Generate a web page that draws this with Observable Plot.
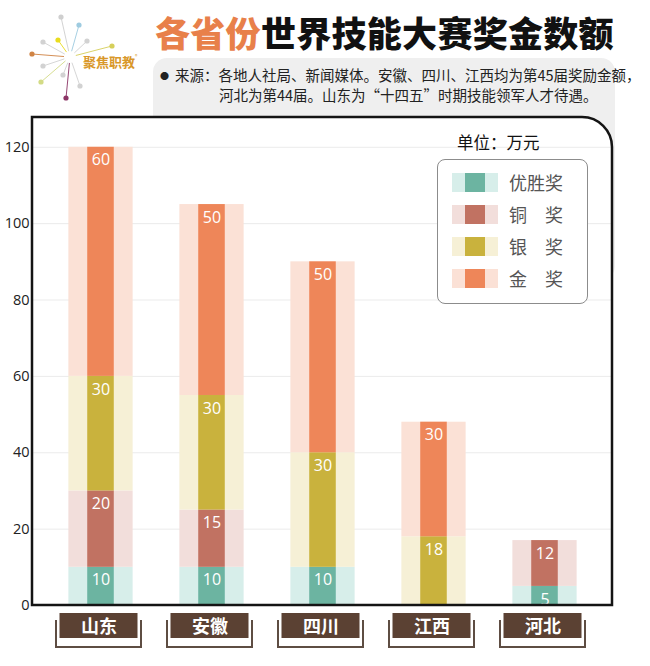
<!DOCTYPE html>
<html><head><meta charset="utf-8">
<script src="https://cdn.jsdelivr.net/npm/d3@7"></script>
<script src="https://cdn.jsdelivr.net/npm/@observablehq/plot@0.6"></script>
<style>
body{margin:0;background:#fff;font-family:"Noto Sans CJK SC","Noto Sans",sans-serif;}
#wrap{position:relative;width:650px;height:666px;overflow:hidden;background:#fff;}
#graybox{position:absolute;left:153px;top:58px;width:462px;height:222px;background:#efefef;border-radius:14px;}
#logo{position:absolute;left:0;top:0;}
#title{position:absolute;left:155px;top:13px;font-size:35px;line-height:38px;font-weight:900;color:#111;white-space:nowrap;letter-spacing:0.3px;}
#sub{position:absolute;left:160px;top:65px;font-size:14.5px;line-height:19px;color:#222;white-space:nowrap;}
#sub .l2{padding-left:59px;}
#sub .dot{display:inline-block;width:15px;font-size:9px;vertical-align:2px;}
#chart{position:absolute;left:0;top:110px;}
#unit{position:absolute;left:457px;top:131px;font-size:16.5px;line-height:22px;color:#111;white-space:nowrap;}
#legend{position:absolute;left:437px;top:159px;width:149px;height:143px;border:1.3px solid #8c8c8c;border-radius:8px;background:#fff;}
.row{position:absolute;left:14px;height:19px;width:140px;}
.sw{position:absolute;left:0;top:0;width:46px;height:19px;}
.swd{position:absolute;left:13px;top:0;width:20px;height:19px;}
.lt{position:absolute;left:57px;top:-5px;font-size:18px;line-height:28px;color:#555;white-space:nowrap;}
</style></head><body>
<div id="wrap">
  <div id="graybox"></div>
  <svg id="logo" width="150" height="110"></svg>
  <div id="title"><span style="color:#e8804a">各省份</span>世界技能大赛奖金数额</div>
  <div id="sub"><span class="dot">●</span>来源：各地人社局、新闻媒体。安徽、四川、江西均为第45届奖励金额，<br><span class="l2">河北为第44届。山东为“十四五”时期技能领军人才待遇。</span></div>
  <div id="chart"></div>
  <div id="unit">单位：万元</div>
  <div id="legend"></div>
</div>
<script>
// ---- data ----
const provinces = ["山东", "安徽", "四川", "江西", "河北"];
const awards = ["优胜奖", "铜奖", "银奖", "金奖"];
const legendLabels = ["优胜奖", "铜　奖", "银　奖", "金　奖"];
const youshengVals = [10, 10, 10, 0, 5];
const tongVals = [20, 15, 0, 0, 12];
const yinVals = [30, 30, 30, 18, 0];
const jinVals = [60, 50, 50, 30, 0];
const yTicks = [0, 20, 40, 60, 80, 100, 120];
const darkColors = ["#6cb4a1", "#c17262", "#c9b23d", "#ee8659"];
const paleColors = ["#d7eeea", "#f2dedb", "#f6f0d6", "#fbe1d6"];

const seriesVals = [youshengVals, tongVals, yinVals, jinVals];
const table = [];
awards.forEach((a, k) => provinces.forEach((p, i) => table.push({province: p, award: a, k, value: seriesVals[k][i]})));
const labeled = table.filter(d => d.value > 0);

// ---- logo (decoration) ----
(function(){
  const s = d3.select("#logo");
  const c = [70, 57];
  const dots = [[61,17,"#cfcfcf"],[79,25,"#9ecbe0"],[87,41,"#d2d2d2"],[112,46,"#d6cf5a"],[58,40,"#e9dc1e"],[43,42,"#d2d2d2"],[32,54,"#d08445"],[43,66,"#d2d2d2"],[41,82,"#d3db86"],[63,75,"#d2d2d2"],[66,98,"#8c3566"],[80,86,"#d2d2d2"]];
  dots.forEach(([x,y,col]) => {
    const dx = x - c[0], dy = y - c[1], L = Math.hypot(dx, dy);
    s.append("line").attr("x1", c[0] + dx/L*6).attr("y1", c[1] + dy/L*6).attr("x2", x).attr("y2", y)
      .attr("stroke", col).attr("stroke-width", 1).attr("opacity", 0.9);
    s.append("circle").attr("cx", x).attr("cy", y).attr("r", 2.6).attr("fill", col);
  });
  s.append("text").attr("x", 83).attr("y", 67).attr("font-size", 13).attr("font-weight", 700)
    .attr("fill", "#d9982a").attr("font-family", "Noto Sans CJK SC").text("聚焦职教");
  s.append("text").attr("x", 135).attr("y", 58).attr("font-size", 5).attr("fill", "#d9982a").text("®");
})();

// ---- legend ----
const leg = d3.select("#legend");
legendLabels.forEach((t, k) => {
  const r = leg.append("div").attr("class", "row").style("top", (13 + k * 32) + "px");
  r.append("div").attr("class", "sw").style("background", paleColors[k]);
  r.append("div").attr("class", "swd").style("background", darkColors[k]);
  r.append("div").attr("class", "lt").text(t);
});

// ---- chart ----
const step = 580 / (5 + 0.19);
const paleInset = (step - 65) / 2;
const darkInset = (step - 27.3) / 2;

const plot = Plot.plot({
  width: 650,
  height: 550,
  marginLeft: 32,
  marginRight: 38,
  marginTop: 7,
  marginBottom: 55,
  style: {background: "transparent", fontFamily: "'Open Sans', 'Noto Sans CJK SC', sans-serif"},
  x: {domain: provinces, padding: 0, paddingOuter: 0.095, axis: null},
  y: {domain: [0, 127.8], axis: null},
  marks: [
    Plot.ruleY(yTicks.filter(d => d > 0), {stroke: "#ebebeb", strokeWidth: 1}),
    Plot.barY(table, Plot.stackY({x: "province", y: "value", fill: d => paleColors[d.k], insetLeft: paleInset, insetRight: paleInset})),
    Plot.barY(table, Plot.stackY({x: "province", y: "value", fill: d => darkColors[d.k], insetLeft: darkInset, insetRight: darkInset})),
    Plot.text(labeled, Plot.stackY2({x: "province", y: "value", text: d => String(d.value), dy: 13, fill: "white", fontSize: 16})),
    Plot.axisY({ticks: yTicks, label: null, tickSize: 0, tickPadding: 3, fontSize: 14.5, fill: "#222"}),
    Plot.axisX({label: null, tickSize: 0, tickPadding: 15, fontSize: 18, fontWeight: "bold", fill: "white", dx: -2, fontFamily: "'Noto Sans CJK SC', sans-serif"})
  ]
});

const xs = plot.scale("x"), ys = plot.scale("y");
const [fx0, fx1] = xs.range;
const fyb = ys.apply(0), fyt = ys.apply(ys.domain[1]);
const R = 30;
const framePath = `M${fx0},${fyb}V${fyt}H${fx1 - R}A${R},${R} 0 0 1 ${fx1},${fyt + R}V${fyb}Z`;
const svg = d3.select(plot);
svg.insert("path", "g").attr("d", framePath).attr("fill", "#fff");
svg.append("path").attr("d", framePath).attr("fill", "none").attr("stroke", "#141414").attr("stroke-width", 2.5);

// category label boxes
const bw = xs.bandwidth;
const boxes = svg.append("g");
provinces.forEach(p => {
  const cx = xs.apply(p) + bw / 2 - 2;
  boxes.append("path")
    .attr("d", `M${cx - 42.5},${fyb + 15}V${fyb + 42}H${cx + 42.5}V${fyb + 15}`)
    .attr("fill", "none").attr("stroke", "#5e4d43").attr("stroke-width", 2);
  boxes.append("rect").attr("x", cx - 39).attr("y", fyb + 8).attr("width", 78).attr("height", 25).attr("fill", "#5b4133");
});
const xAxisG = plot.querySelector('g[aria-label="x-axis tick label"]');
if (xAxisG) plot.appendChild(xAxisG);

document.getElementById("chart").appendChild(plot);
</script>
</body></html>
